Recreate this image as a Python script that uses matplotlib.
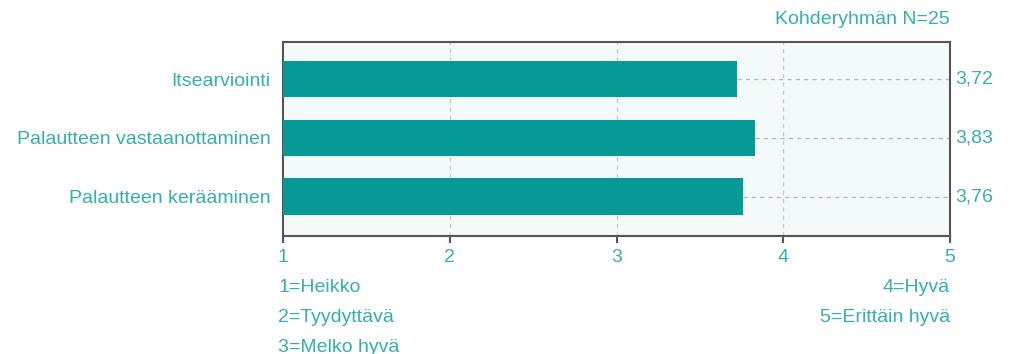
import matplotlib.pyplot as plt

# Arvosanojen keskiarvot
categories = ['Itsearviointi', 'Palautteen vastaanottaminen', 'Palautteen kerääminen']
values = [3.72, 3.83, 3.76]
xticks = [1, 2, 3, 4, 5]
scale_left = ['1=Heikko', '2=Tyydyttävä', '3=Melko hyvä']
scale_right = ['4=Hyvä', '5=Erittäin hyvä']
n_text = 'Kohderyhmän N=25'

bar_color = '#079995'
text_color = '#35b0ac'
bg_color = '#f2fafa'
fs = 14

plt.rcParams['font.family'] = ['Liberation Sans', 'DejaVu Sans']

fig = plt.figure(figsize=(10.11, 3.54), dpi=100)
ax = fig.add_axes([283 / 1011, 1 - 236 / 354, 667 / 1011, 194 / 354])
ax.set_facecolor(bg_color)

pos = list(range(len(categories)))
ax.barh(pos, [v - 1 for v in values], left=1, height=0.62, color=bar_color,
        zorder=3)

# pystysuuntainen ruudukko
for x in xticks[1:-1]:
    ax.axvline(x, color='#c8cccc', lw=1, ls=(0, (3, 3)), zorder=1)

# katkoviiva palkin päästä oikeaan reunaan + arvo
for p, v in zip(pos, values):
    ax.plot([v, 5], [p, p], color='#b8bcbc', lw=1, ls=(0, (3, 3)), zorder=2)
    ax.text(1.008, p, f'{v:.2f}'.replace('.', ','), transform=ax.get_yaxis_transform(),
            ha='left', va='center', color=text_color, fontsize=fs)

ax.set_xlim(1, 5)
ax.set_ylim(2.67, -0.63)
ax.set_xticks(xticks)
ax.set_xticklabels([str(x) for x in xticks])
ax.set_yticks(pos)
ax.set_yticklabels(categories)
ax.tick_params(axis='x', direction='out', length=5, width=1.5, color='#555555',
               labelcolor=text_color, labelsize=fs, pad=4)
ax.tick_params(axis='y', length=0, labelcolor=text_color, labelsize=fs, pad=9)
for s in ax.spines.values():
    s.set_color('#555555')
    s.set_linewidth(1.5)

fig.text(950 / 1011, 1 - 20 / 354, n_text, ha='right', va='center',
         color=text_color, fontsize=fs)
for i, t in enumerate(scale_left):
    fig.text(278 / 1011, 1 - (288 + 29.5 * i) / 354, t, ha='left', va='center',
             color=text_color, fontsize=fs)
for i, t in enumerate(scale_right):
    fig.text(950 / 1011, 1 - (288 + 29.5 * i) / 354, t, ha='right', va='center',
             color=text_color, fontsize=fs)

fig.savefig('out.png', dpi=100, facecolor='white')
